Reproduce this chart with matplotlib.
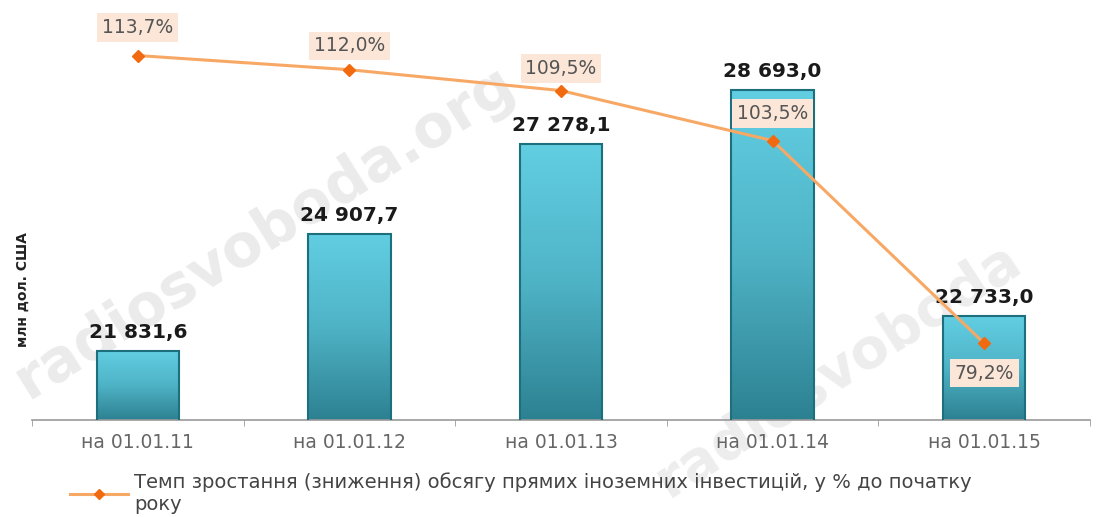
import numpy as np
import matplotlib
matplotlib.use('Agg')
import matplotlib.pyplot as plt
from matplotlib.colors import LinearSegmentedColormap
from matplotlib.lines import Line2D

# data
categories = ['на 01.01.11', 'на 01.01.12', 'на 01.01.13', 'на 01.01.14', 'на 01.01.15']
investments = [21831.6, 24907.7, 27278.1, 28693.0, 22733.0]
invest_labels = ['21 831,6', '24 907,7', '27 278,1', '28 693,0', '22 733,0']
growth = [113.7, 112.0, 109.5, 103.5, 79.2]
growth_labels = ['113,7%', '112,0%', '109,5%', '103,5%', '79,2%']
legend_text = ('Темп зростання (зниження) обсягу прямих іноземних інвестицій, у % до початку\n'
               'року')


def gradient_bars(ax, bars):
    cmap = LinearSegmentedColormap.from_list('teal', ['#2c8191', '#4fb3c6', '#62cee2'])
    grad = np.linspace(0, 1, 256).reshape(-1, 1)
    for b in bars:
        x0, y0 = b.get_x(), b.get_y()
        w, h = b.get_width(), b.get_height()
        im = ax.imshow(grad, cmap=cmap, origin='lower', aspect='auto',
                       extent=[x0, x0 + w, ax.get_ylim()[0], y0 + h], zorder=2)
        im.set_clip_path(b)


def main():
    fig = plt.figure(figsize=(11.04, 5.17), dpi=100)
    ax = fig.add_axes([32 / 1104, 97 / 517, 1058 / 1104, 417 / 517])
    ax.set_zorder(2)
    x = np.arange(len(categories))

    # watermarks
    fig.text(0.004, 0.23, 'radiosvoboda.org', rotation=32, fontsize=42, fontweight='bold',
             color='#ebebeb', zorder=-1)
    fig.text(0.585, 0.04, 'radiosvoboda', rotation=33, fontsize=40, fontweight='bold',
             color='#ededed', zorder=-1)

    ax.set_xlim(-0.5, len(categories) - 0.5)
    ax.set_ylim(20000, 31000)
    bars = ax.bar(x, investments, width=0.39, bottom=0, facecolor='none',
                  edgecolor='#1d6f7e', linewidth=1.5, zorder=3)
    gradient_bars(ax, bars)
    ax.set_ylim(20000, 31000)
    for xi, v, lab in zip(x, investments, invest_labels):
        ax.annotate(lab, (xi, v), xytext=(0, 9), textcoords='offset pixels',
                    ha='center', va='bottom', fontsize=14.5, fontweight='bold', color='#1a1a1a')

    ax.set_xticks(x)
    ax.set_xticklabels(categories, fontsize=13.5, color='#666666')
    ax.set_xticks(np.arange(len(categories) + 1) - 0.5, minor=True)
    ax.tick_params(axis='x', which='major', length=0, pad=9)
    ax.tick_params(axis='x', which='minor', length=4, color='#999999')
    ax.set_yticks([])
    for s in ['top', 'right', 'left']:
        ax.spines[s].set_visible(False)
    ax.spines['bottom'].set_color('#999999')
    ax.spines['bottom'].set_linewidth(1.2)
    ax.patch.set_alpha(0)
    fig.text(23 / 1104, 1 - 290 / 517, 'млн дол. США', rotation=90, fontsize=10, fontweight='bold',
             ha='center', va='center', color='#222222')

    ax2 = ax.twinx()
    ax2.set_ylim(70, 120)
    ax2.set_yticks([])
    for s in ['top', 'right', 'left', 'bottom']:
        ax2.spines[s].set_visible(False)
    ax2.plot(x, growth, color='#f8a865', linewidth=2.2, marker='D', markersize=6,
             markerfacecolor='#f26a10', markeredgecolor='#f26a10', zorder=5)
    offsets = [28, 24, 22, 27, -30]
    for xi, v, lab, off in zip(x, growth, growth_labels, offsets):
        ax2.annotate(lab, (xi, v), xytext=(0, off), textcoords='offset pixels',
                     ha='center', va='center', fontsize=13.5, color='#555555',
                     bbox=dict(boxstyle='square,pad=0.25', facecolor='#fbe6d8', edgecolor='none'))

    handle = Line2D([], [], color='#f8a865', linewidth=2.2, marker='D', markersize=5,
                    markerfacecolor='#f26a10', markeredgecolor='#f26a10')
    fig.legend([handle], [legend_text], loc='upper left', bbox_to_anchor=(62 / 1104, 1 - 465 / 517),
               frameon=False, fontsize=14, handlelength=3.0, handletextpad=0.3,
               labelspacing=0.2, labelcolor='#444444', borderaxespad=0)

    fig.savefig('out.png', dpi=100)


if __name__ == '__main__':
    main()
